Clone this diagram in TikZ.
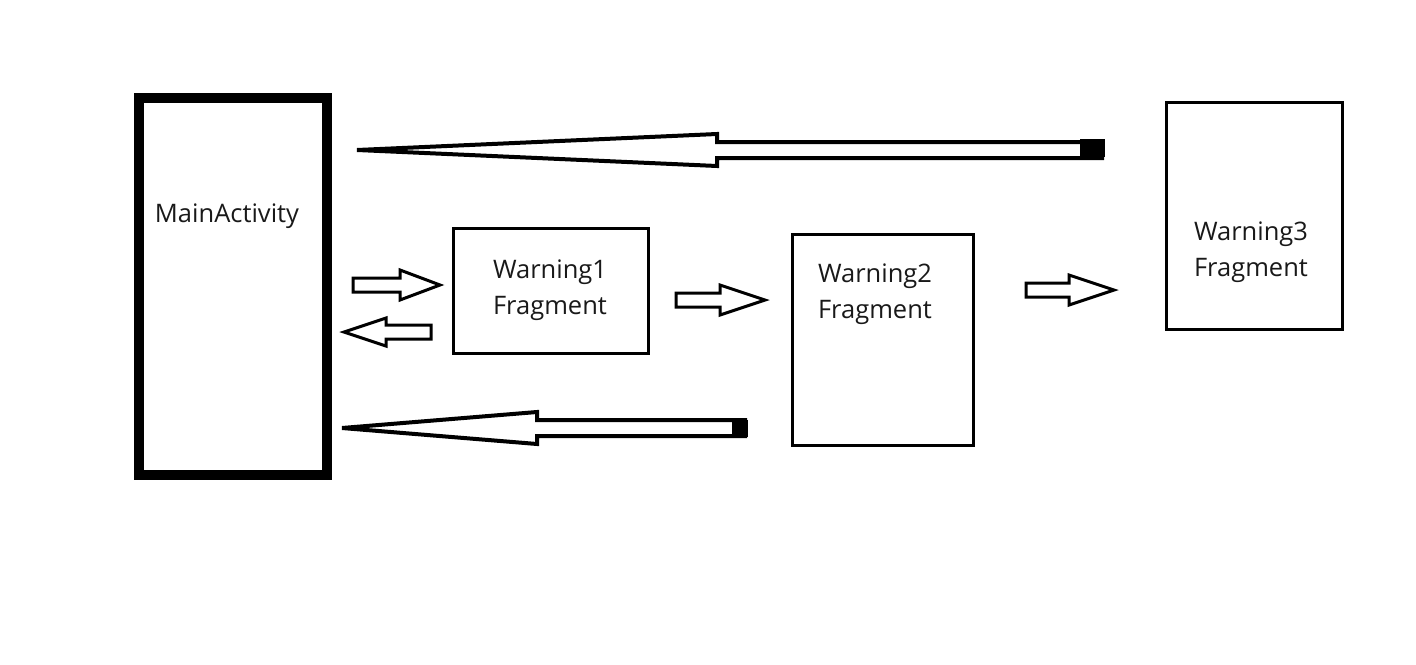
\documentclass[tikz,border=0pt]{standalone}
\usepackage{fontspec}
\setmainfont{Open Sans}
\usetikzlibrary{calc}
\tikzset{
  box/.style={draw=black, line width=3pt, rectangle},
  mainbox/.style={draw=black, line width=10pt, rectangle},
  lbl/.style={text=black!90, font=\fontsize{25.5}{36}\selectfont, align=center},
  hollow/.style={draw=black, fill=white, line width=3pt, line join=miter},
}
% \harrow{tailx}{tipx}{y}{shaft half}{head half}{head length}{line width}
\newcommand{\harrow}[7]{%
  \pgfmathsetmacro{\hd}{((#2)>(#1))?1:-1}%
  \pgfmathsetmacro{\hb}{#2-\hd*#6}%
  \draw[hollow, line width=#7pt]
    (#1,#3-#4) -- (\hb,#3-#4) -- (\hb,#3-#5) -- (#2,#3) -- (\hb,#3+#5) -- (\hb,#3+#4) -- (#1,#3+#4) -- cycle;
}
\begin{document}
\begin{tikzpicture}[x=1pt,y=-1pt]
\useasboundingbox (0,0) rectangle (1416,664);
% boxes
\node[mainbox, minimum width=188pt, minimum height=377pt, inner sep=0pt] (main) at (233,286.5) {};
\node[lbl] (maintxt) at (227,216) {MainActivity};
\node[box, minimum width=195pt, minimum height=125pt, inner sep=0pt] (w1) at (550.5,290.5) {};
\node[lbl] (w1txt) at (550,290) {Warning1\\Fragment};
\node[box, minimum width=181pt, minimum height=211pt, inner sep=0pt] (w2) at (882.5,339.5) {};
\node[lbl] (w2txt) at (875,294) {Warning2\\Fragment};
\node[box, minimum width=176pt, minimum height=227pt, inner sep=0pt] (w3) at (1254,215.5) {};
\node[lbl] (w3txt) at (1251,252) {Warning3\\Fragment};
% big arrows
\harrow{1102}{357}{150}{8}{16}{360}{4}
\fill (1080,139) rectangle (1105,157);
\harrow{745}{342}{428}{8}{16}{195}{4}
\fill (732,420) rectangle (748,437);
% small arrows
\harrow{353}{440}{285}{7}{15}{40}{3}
\harrow{431}{344}{332}{7}{14}{42}{3}
\harrow{676}{765}{300}{7}{15}{45}{3}
\harrow{1026}{1114}{290}{7}{15}{45}{3}
\end{tikzpicture}
\end{document}
